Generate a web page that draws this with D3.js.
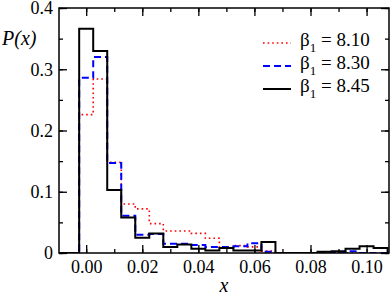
<!DOCTYPE html>
<html>
<head>
<meta charset="utf-8">
<script src="https://cdn.jsdelivr.net/npm/d3@7"></script>
<style>
  body { margin: 0; background: #fff; }
  svg { display: block; }
  .tick text { font-family: "Liberation Serif", "Times New Roman", serif; font-size: 18px; fill: #000; }
</style>
</head>
<body>
<div id="chart"></div>
<script>
// bin centres of the histogram (bin width 0.005)
var binCenters = [0.000, 0.005, 0.010, 0.015, 0.020, 0.025, 0.030, 0.035, 0.040, 0.045, 0.050,
                  0.055, 0.060, 0.065, 0.070, 0.075, 0.080, 0.085, 0.090, 0.095, 0.100, 0.105]
var binWidth = 0.005

// P(x) for each beta_1
var p810 = [0.226, 0.284, 0.148, 0.080, 0.072, 0.048, 0.036, 0.036, 0.032, 0.024, 0.009,
            0.012, 0.010, 0.003, 0, 0, 0, 0, 0, 0, 0, 0]
var p830 = [0.286, 0.320, 0.147, 0.061, 0.030, 0.031, 0.015, 0.015, 0.013, 0.010, 0.010,
            0.011, 0.016, 0.002, 0, 0, 0, 0.001, 0.001, 0.003, 0, 0]
var p845 = [0.366, 0.330, 0.103, 0.058, 0.025, 0.032, 0.010, 0.014, 0.007, 0.004, 0.008,
            0.004, 0.004, 0.018, 0, 0, 0, 0.002, 0.003, 0.007, 0.011, 0.008]

var seriesNames = ["8.10", "8.30", "8.45"]
var xTicks = [0.00, 0.02, 0.04, 0.06, 0.08, 0.10]
var yTicks = [0, 0.1, 0.2, 0.3, 0.4]

var width = 392, height = 298
var margin = {left: 59, right: 3, top: 8, bottom: 45}
var w = width - margin.left - margin.right
var h = height - margin.top - margin.bottom

var svg = d3.select("#chart").append("svg")
  .attr("width", width)
  .attr("height", height)

var x = d3.scaleLinear().domain([-0.0097, 0.108]).range([0, w])
var y = d3.scaleLinear().domain([0, 0.4]).range([h, 0])

var g = svg.append("g")
  .attr("transform", "translate(" + margin.left + "," + margin.top + ")")

g.append("clipPath").attr("id", "clip")
  .append("rect").attr("width", w).attr("height", h)

// step line through the bin edges
function stepPoints(vals) {
  var pts = [[x.domain()[0], 0]]
  vals.forEach(function(v, i) { pts.push([binCenters[i] - binWidth / 2, v]) })
  pts.push([binCenters[binCenters.length - 1] + binWidth / 2, 0])
  pts.push([x.domain()[1], 0])
  return pts
}

var line = d3.line()
  .x(function(d) { return x(d[0]) })
  .y(function(d) { return y(d[1]) })
  .curve(d3.curveStepAfter)

var series = [
  {vals: p810, color: "#ff0000", width: 1.6, dash: "1.6,3"},
  {vals: p830, color: "#0000ff", width: 2, dash: "7,4"},
  {vals: p845, color: "#000000", width: 2, dash: null}
]

g.append("g").attr("clip-path", "url(#clip)")
  .selectAll("path")
  .data(series)
  .enter()
  .append("path")
  .attr("d", function(d) { return line(stepPoints(d.vals)) })
  .attr("fill", "none")
  .attr("stroke", function(d) { return d.color })
  .attr("stroke-width", function(d) { return d.width })
  .attr("stroke-dasharray", function(d) { return d.dash })

// axes, ticks pointing inward on all four sides
var xMinor = d3.range(-0.00, 0.1081, 0.01)
var yMinor = d3.range(0, 0.401, 0.05)
var fmtX = d3.format(".2f"), fmtY = function(d) { return d === 0 ? "0" : d3.format(".1f")(d) }

function styleAxis(sel) {
  sel.select(".domain").remove()
  sel.selectAll(".tick line").attr("stroke", "#000").attr("stroke-width", 1.3)
}

g.append("g").attr("transform", "translate(0," + h + ")")
  .call(d3.axisBottom(x).tickValues(xMinor).tickSize(-4).tickFormat("")).call(styleAxis)
g.append("g").attr("transform", "translate(0," + h + ")")
  .call(d3.axisBottom(x).tickValues(xTicks).tickSize(-8).tickPadding(7).tickFormat(fmtX)).call(styleAxis)
g.append("g")
  .call(d3.axisTop(x).tickValues(xMinor).tickSize(-4).tickFormat("")).call(styleAxis)
g.append("g")
  .call(d3.axisTop(x).tickValues(xTicks).tickSize(-8).tickFormat("")).call(styleAxis)

g.append("g")
  .call(d3.axisLeft(y).tickValues(yMinor).tickSize(-4).tickFormat("")).call(styleAxis)
g.append("g")
  .call(d3.axisLeft(y).tickValues(yTicks).tickSize(-8).tickPadding(6).tickFormat(fmtY)).call(styleAxis)
g.append("g").attr("transform", "translate(" + w + ",0)")
  .call(d3.axisRight(y).tickValues(yMinor).tickSize(-4).tickFormat("")).call(styleAxis)
g.append("g").attr("transform", "translate(" + w + ",0)")
  .call(d3.axisRight(y).tickValues(yTicks).tickSize(-8).tickFormat("")).call(styleAxis)

// frame
g.append("rect")
  .attr("width", w).attr("height", h)
  .attr("fill", "none").attr("stroke", "#000").attr("stroke-width", 1.5)

// axis titles
svg.append("text")
  .attr("x", margin.left + w / 2).attr("y", 292)
  .attr("text-anchor", "middle")
  .style("font-family", "Liberation Serif, serif").style("font-style", "italic").style("font-size", "20px")
  .text("x")
svg.append("text")
  .attr("x", 2).attr("y", 45)
  .style("font-family", "Liberation Serif, serif").style("font-style", "italic").style("font-size", "20px")
  .text("P(x)")

// legend
var legend = svg.append("g").attr("transform", "translate(263,43)")
var item = legend.selectAll("g")
  .data(series)
  .enter()
  .append("g")
  .attr("transform", function(d, i) { return "translate(0," + i * 23 + ")" })

item.append("line")
  .attr("x1", 0).attr("x2", 28).attr("y1", 0).attr("y2", 0)
  .attr("stroke", function(d) { return d.color })
  .attr("stroke-width", function(d) { return d.width })
  .attr("stroke-dasharray", function(d) { return d.dash })

var lt = item.append("text")
  .attr("x", 37).attr("y", 3)
  .style("font-family", "Liberation Serif, serif").style("font-size", "19px")
lt.append("tspan").text("\u03B2")
lt.append("tspan").attr("dy", 6).style("font-size", "13px").text("1")
lt.append("tspan").attr("dy", -6).text(function(d, i) { return " = " + seriesNames[i] })
</script>
</body>
</html>
